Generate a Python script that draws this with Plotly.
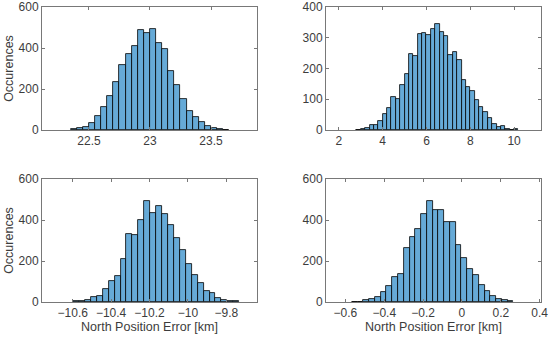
import plotly.graph_objects as go

# ---------------- data ----------------
# top-left: bins of width 0.05 starting at 22.35
tl_start = 22.35
tl_width = 0.05
tl_counts = [3, 8, 16, 33, 70, 114, 168, 236, 315, 372, 412, 489, 473, 492,
             424, 396, 288, 220, 152, 93, 62, 37, 20, 10, 3, 2]

# top-right: bins of width 0.2 starting at 2.8
tr_start = 2.8
tr_width = 0.2
tr_counts = [1, 4, 8, 15, 15, 28, 51, 71, 107, 101, 146, 183, 248, 242, 311,
             315, 309, 328, 346, 318, 305, 243, 255, 227, 162, 139, 127, 99,
             74, 57, 40, 20, 11, 12, 4, 1, 2]

# bottom-left: bins of width ~0.031 starting at -10.598
bl_start = -10.598
bl_width = 0.0309
bl_counts = [3, 5, 11, 24, 31, 65, 104, 127, 210, 333, 328, 399, 491, 435,
             468, 429, 377, 311, 253, 183, 130, 93, 54, 44, 21, 8, 5, 3]

# bottom-right: bins of width ~0.0297 starting at -0.567
br_start = -0.567
br_width = 0.0297
br_counts = [2, 1, 11, 13, 24, 51, 78, 122, 139, 262, 318, 354, 427, 492,
             448, 447, 388, 391, 277, 215, 161, 134, 82, 55, 31, 16, 8, 3]

tl_xticks = [22.5, 23, 23.5]
tr_xticks = [2, 4, 6, 8, 10]
bl_xticks = [-10.6, -10.4, -10.2, -10, -9.8]
br_xticks = [-0.6, -0.4, -0.2, 0, 0.2, 0.4]
tl_yticks = [0, 200, 400, 600]
tr_yticks = [0, 100, 200, 300, 400]
bl_yticks = [0, 200, 400, 600]
br_yticks = [0, 200, 400, 600]

ylabel = "Occurences"
xlabel = "North Position Error [km]"

# ---------------- figure ----------------
W, H = 550, 340
fill = "rgb(102,170,215)"
axcol = "rgb(120,120,120)"
txtcol = "rgb(60,60,60)"
font = "Liberation Sans, Arial, Helvetica, sans-serif"
tfs = 12
lfs = 12.5

panels = [
    dict(start=tl_start, width=tl_width, counts=tl_counts, xt=tl_xticks, yt=tl_yticks,
         xr=[22.115, 23.877], yr=[0, 600], px=(42, 257), py=(7, 130), yl=True, xl=False),
    dict(start=tr_start, width=tr_width, counts=tr_counts, xt=tr_xticks, yt=tr_yticks,
         xr=[1.41, 11.23], yr=[0, 400], px=(326, 541), py=(7, 130), yl=False, xl=False),
    dict(start=bl_start, width=bl_width, counts=bl_counts, xt=bl_xticks, yt=bl_yticks,
         xr=[-10.76, -9.64], yr=[0, 600], px=(42, 257), py=(179, 302), yl=True, xl=True),
    dict(start=br_start, width=br_width, counts=br_counts, xt=br_xticks, yt=br_yticks,
         xr=[-0.70, 0.407], yr=[0, 600], px=(326, 541), py=(179, 302), yl=False, xl=True),
]

fig = go.Figure()
layout = dict(
    width=W, height=H, margin=dict(l=0, r=0, t=0, b=0, autoexpand=False),
    paper_bgcolor="white", plot_bgcolor="white", showlegend=False,
    font=dict(family=font, size=tfs, color=txtcol),
    bargap=0,
)

for i, p in enumerate(panels):
    n = "" if i == 0 else str(i + 1)
    centers = [p["start"] + (k + 0.5) * p["width"] for k in range(len(p["counts"]))]
    fig.add_trace(go.Bar(
        x=centers, y=p["counts"], width=p["width"],
        marker=dict(color=fill, line=dict(color="black", width=0.8)),
        xaxis="x" + n, yaxis="y" + n, hoverinfo="x+y",
    ))
    common = dict(showgrid=False, zeroline=False, showline=True, linecolor=axcol,
                  linewidth=1, mirror="ticks", ticks="inside", ticklen=3,
                  tickcolor=axcol, tickwidth=1, automargin=False,
                  tickfont=dict(family=font, size=tfs, color=txtcol))
    xa = dict(common, domain=[p["px"][0] / W, p["px"][1] / W], range=p["xr"],
              tickvals=p["xt"], anchor="y" + n)
    ya = dict(common, domain=[1 - p["py"][1] / H, 1 - p["py"][0] / H], range=p["yr"],
              tickvals=p["yt"], anchor="x" + n)
    if p["xl"]:
        xa["title"] = dict(text=xlabel, font=dict(family=font, size=lfs, color=txtcol), standoff=0)
    if p["yl"]:
        ya["title"] = dict(text=ylabel, font=dict(family=font, size=lfs, color=txtcol), standoff=2)
    layout["xaxis" + n] = xa
    layout["yaxis" + n] = ya

fig.update_layout(**layout)
fig.write_html("out.html", config={"displayModeBar": False},
               post_script="document.body.style.margin='0px';document.body.style.overflow='hidden';")
